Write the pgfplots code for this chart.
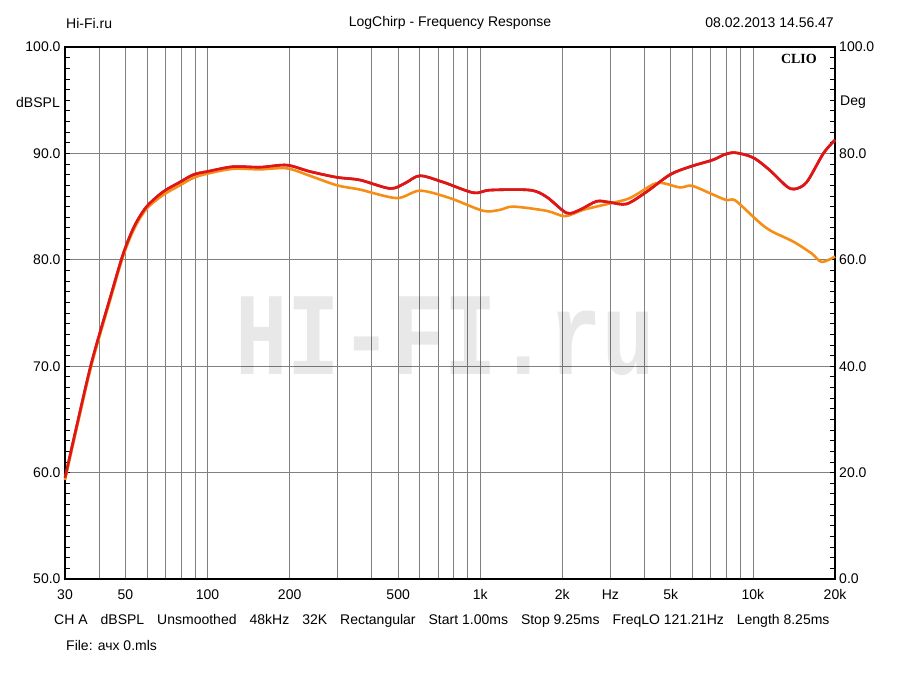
\documentclass[border=0pt]{standalone}
\usepackage{pgfplots}
\pgfplotsset{compat=1.18}
\usepackage{graphicx}
\usepackage{fontspec}
\setmainfont{Liberation Sans}
\newfontfamily\serifb{Liberation Serif}
\newfontfamily\monob{Liberation Mono}
\definecolor{cred}{RGB}{222,22,22}
\definecolor{corange}{RGB}{246,142,22}
\pgfplotstableread{
f db
30 59.5
33 64.2
37.6 70.4
43.9 76.4
49.1 80.6
54 83.2
59.8 85.0
68.8 86.4
79.2 87.3
88.7 88.0
100 88.3
124 88.75
156 88.7
195 88.9
237 88.3
298 87.75
362 87.5
467 86.7
530 87.2
601 87.9
731 87.3
944 86.3
1086 86.55
1522 86.55
1753 85.9
2075 84.4
2322 84.7
2672 85.5
2990 85.4
3443 85.25
4078 86.4
4965 88.0
5880 88.75
7154 89.4
7784 89.85
8587 90.07
10020 89.6
11550 88.4
13300 86.9
14260 86.65
15750 87.3
18130 90.0
20000 91.26
}\redtab
\pgfplotstableread{
f db
30 59.3
33 64.0
37.6 70.2
43.9 76.2
49.1 80.4
54 83.0
59.8 84.8
68.8 86.1
79.2 87.0
88.7 87.7
100 88.1
124 88.55
156 88.5
195 88.6
237 87.9
298 87.0
362 86.6
494 85.8
601 86.5
774 85.8
1026 84.6
1182 84.7
1322 85.0
1753 84.6
2046 84.1
2389 84.7
2990 85.3
3540 85.8
4313 87.1
4692 87.2
5402 86.8
5965 86.96
6965 86.25
8010 85.6
8587 85.6
10020 84.05
10920 83.2
11870 82.6
14080 81.7
16410 80.6
17870 79.8
20000 80.3
}\orangetab
\begin{document}
\begin{tikzpicture}[x=1pt,y=1pt]
\begin{axis}[name=ax, scale only axis, width=770pt, height=532pt,
  xmode=log, xmin=30, xmax=20000, ymin=50, ymax=100,
  axis line style={line width=2.5pt},
  font=\fontsize{14}{16}\selectfont,
  xtick={30,50,100,200,500,1000,2000,3000,5000,10000,20000},
  xticklabels={30,50,100,200,500,1k,2k,Hz,5k,10k,20k},
  minor xtick={40,60,70,80,90,300,400,600,700,800,900,4000,6000,7000,8000,9000},
  xmajorgrids, xminorgrids,
  xtick style={draw=none},
  minor x tick style={draw=none},
  ytick={50,60,70,80,90,100},
  yticklabels={50.0,60.0,70.0,80.0,90.0,100.0},
  minor y tick num=9,
  ymajorgrids,
  ytick pos=both, yticklabel pos=left,
  tick align=inside,
  major tick length=5pt, minor tick length=5pt,
  ytick style={black, line width=0.8pt},
  minor y tick style={black, line width=0.8pt},
  grid style={black!50, line width=0.8pt},
  minor grid style={black!50, line width=0.8pt},
  xticklabel style={yshift=-7pt},
  yticklabel style={xshift=-1pt},
  clip=false,
]
\node[text=black, text opacity=0.09, font=\monob\bfseries\fontsize{118}{118}\selectfont, inner sep=0] at (axis cs:742,72.84) {\scalebox{0.74}[1]{HI-FI.ru}};
\addplot[cred, line width=2.6pt, smooth, tension=0.5] table[x=f,y=db] {\redtab};
\addplot[corange, line width=2.6pt, smooth, tension=0.5] table[x=f,y=db] {\orangetab};
\addplot[cred, line width=2.6pt, smooth, tension=0.5] table[x=f,y=db] {\redtab};
\node[anchor=west, inner sep=0, xshift=4pt] at (axis cs:20000,50) {0.0};
\node[anchor=west, inner sep=0, xshift=4pt] at (axis cs:20000,60) {20.0};
\node[anchor=west, inner sep=0, xshift=4pt] at (axis cs:20000,70) {40.0};
\node[anchor=west, inner sep=0, xshift=4pt] at (axis cs:20000,80) {60.0};
\node[anchor=west, inner sep=0, xshift=4pt] at (axis cs:20000,90) {80.0};
\node[anchor=west, inner sep=0, xshift=4pt] at (axis cs:20000,100) {100.0};
\end{axis}
\begin{scope}[font=\fontsize{14}{16}\selectfont]
\node[anchor=west, inner sep=0] at ([yshift=24pt,xshift=1pt]ax.north west) {Hi-Fi.ru};
\node[inner sep=0] at ([yshift=24pt]ax.north) {LogChirp - Frequency Response};
\node[anchor=east, inner sep=0] at ([yshift=24pt,xshift=-1pt]ax.north east) {08.02.2013 14.56.47};
\node[anchor=east, inner sep=0] at ([yshift=-55pt,xshift=-5pt]ax.north west) {dBSPL};
\node[anchor=west, inner sep=0] at ([yshift=-55pt,xshift=5pt]ax.north east) {Deg};
\node[anchor=east, inner sep=0, font=\serifb\bfseries\fontsize{14}{16}\selectfont] at ([yshift=-12pt,xshift=-18pt]ax.north east) {CLIO};
\node[anchor=west, inner sep=0] at ([yshift=-42pt,xshift=-11pt]ax.south west) {CH A\hspace{13pt}dBSPL\hspace{13pt}Unsmoothed\hspace{13pt}48kHz\hspace{13pt}32K\hspace{13pt}Rectangular\hspace{13pt}Start 1.00ms\hspace{13pt}Stop 9.25ms\hspace{13pt}FreqLO 121.21Hz\hspace{13pt}Length 8.25ms};
\node[anchor=west, inner sep=0] at ([yshift=-66pt,xshift=1pt]ax.south west) {File: ачх 0.mls};
\end{scope}
\pgfresetboundingbox
\path ([shift={(-65pt,-96pt)}]ax.south west) rectangle ++(900pt,675pt);
\end{tikzpicture}
\end{document}
